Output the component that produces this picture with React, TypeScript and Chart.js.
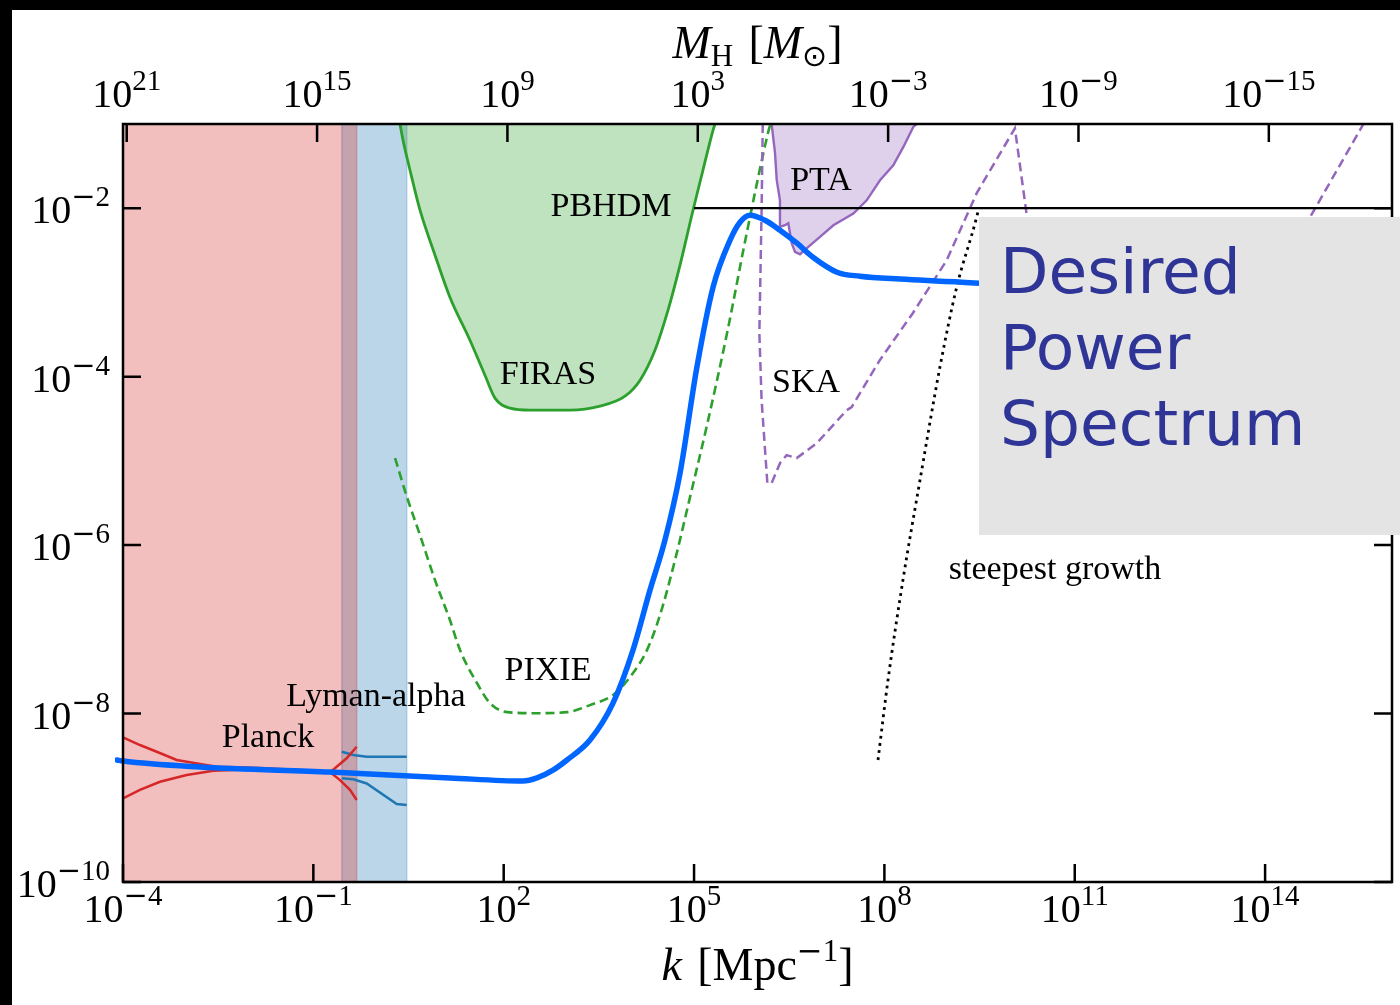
import React, { useEffect, useRef } from 'react';
import { Chart, registerables } from 'chart.js';

Chart.register(...registerables);

// ---- axis ranges ----
const K_MIN = 1e-4;
const K_MAX = 1e16;
const P_MIN = 1e-10;
const P_MAX = 1e-1;
// horizon mass in solar masses: M_H = HORIZON_MASS_K1 * (k / Mpc^-1)^-2
const HORIZON_MASS_K1 = 1.31e13;

// ---- tick positions ----
const kTicks = [1e-4, 1e-1, 1e2, 1e5, 1e8, 1e11, 1e14];
const pTicks = [1e-10, 1e-8, 1e-6, 1e-4, 1e-2];
const massTicks = [1e21, 1e15, 1e9, 1e3, 1e-3, 1e-9, 1e-15];

// ---- desired primordial power spectrum ----
const desiredK = [8.04e-5, 1e-4, 1.64e-3, 0.183, 14.2, 201, 335, 598, 995, 2.29e3, 5.28e3, 1.09e4, 2.02e4, 3.48e4, 6.01e4, 1.11e5, 1.99e5, 3.69e5, 5.3e5, 7.62e5, 1.31e6, 2.26e6, 4.19e6, 7.49e6, 1.79e7, 4.12e7, 1.76e8, 3.21e9, 2.5e11];
const desiredP = [2.81e-9, 2.73e-9, 2.32e-9, 2.02e-9, 1.72e-9, 1.58e-9, 1.72e-9, 2.13e-9, 2.81e-9, 4.85e-9, 1.33e-8, 5.67e-8, 2.92e-7, 1.15e-6, 7.15e-6, 1.3e-4, 1.15e-3, 4.17e-3, 6.82e-3, 8.26e-3, 7.2e-3, 5.48e-3, 3.84e-3, 2.62e-3, 1.74e-3, 1.56e-3, 1.44e-3, 1.29e-3, 1.12e-3];

// ---- CMB (Planck) ----
const planckBandK = [1e-4, 1e-4, 0.482, 0.482];
const planckBandP = [1e-10, 1e-1, 1e-1, 1e-10];
const planckUpperK = [1e-4, 1.85e-4, 3.4e-4, 7.02e-4, 1.64e-3, 3.0e-3, 1.44e-2, 6.16e-2, 0.183, 0.263, 0.378, 0.482];
const planckUpperP = [5.22e-9, 4.23e-9, 3.52e-9, 2.81e-9, 2.52e-9, 2.34e-9, 2.25e-9, 2.13e-9, 2.02e-9, 1.62e-9, 1.24e-9, 9.4e-10];
const planckLowerK = [1e-4, 1.85e-4, 3.83e-4, 1.01e-3, 2.65e-3, 1.44e-2, 6.16e-2, 0.183, 0.233, 0.335, 0.482];
const planckLowerP = [9.85e-10, 1.24e-9, 1.55e-9, 1.86e-9, 2.09e-9, 2.19e-9, 2.08e-9, 2.0e-9, 2.34e-9, 2.94e-9, 4.04e-9];

// ---- Lyman-alpha forest ----
const lymanBandK = [0.28, 0.28, 2.96, 2.96];
const lymanBandP = [1e-10, 1e-1, 1e-1, 1e-10];
const lymanUpperK = [0.28, 0.426, 0.693, 2.96];
const lymanUpperP = [3.52e-9, 3.22e-9, 3.07e-9, 3.07e-9];
const lymanLowerK = [0.28, 0.426, 0.693, 2.06, 2.96];
const lymanLowerP = [1.7e-9, 1.66e-9, 1.48e-9, 8.43e-10, 8.2e-10];

// ---- spectral distortions ----
const firasK = [2.32, 2.59, 3.34, 4.8, 8.27, 14.2, 29.4, 50.7, 72.9, 126, 260, 1.11e3, 3.29e3, 8.16e3, 1.41e4, 2.42e4, 3.89e4, 6.01e4, 9.63e4, 1.38e5, 1.99e5, 2.14e5];
const firasP = [0.1, 6.41e-2, 2.82e-2, 9.47e-3, 2.77e-3, 8.78e-4, 2.71e-4, 1.04e-4, 5.56e-5, 4.23e-5, 4.0e-5, 4.0e-5, 4.47e-5, 5.87e-5, 9.09e-5, 2.06e-4, 6.16e-4, 2.11e-3, 9.47e-3, 2.82e-2, 8.42e-2, 0.1];
const pixieK = [1.94, 2.99, 4.8, 8.27, 14.2, 20.5, 37.9, 60.8, 113, 335, 994, 2.29e3, 5.28e3, 9.78e3, 1.81e4, 2.91e4, 5.01e4, 8.64e4, 1.6e5, 3.31e5, 6.76e5, 1.46e6, 1.6e6];
const pixieP = [1.08e-5, 3.71e-6, 1.31e-6, 3.84e-7, 1.29e-7, 5.67e-8, 2.3e-8, 1.33e-8, 1.04e-8, 1.01e-8, 1.04e-8, 1.26e-8, 1.66e-8, 2.71e-8, 5.67e-8, 1.48e-7, 6.64e-7, 3.71e-6, 2.66e-5, 3.28e-4, 5.05e-3, 7.77e-2, 0.1];

// ---- pulsar timing and SKA ----
const ptaK = [1.67e6, 1.89e6, 2.01e6, 2.26e6, 2.26e6, 2.71e6, 3.06e6, 3.46e6, 3.9e6, 4.68e6, 6.32e6, 9.66e6, 1.57e7, 3.24e7, 5.26e7, 8.52e7, 1.38e8, 1.99e8, 2.85e8, 3.23e8];
const ptaP = [0.1, 4.5e-2, 2.15e-2, 1.24e-2, 6.0e-3, 6.28e-3, 6.64e-3, 3.84e-3, 3.03e-3, 2.84e-3, 3.47e-3, 4.56e-3, 6.28e-3, 8.65e-3, 1.24e-2, 2.15e-2, 3.24e-2, 5.34e-2, 9.23e-2, 0.1];
const skaK = [1.21e6, 1.16e6, 1.07e6, 1.16e6, 1.43e6, 1.67e6, 2.26e6, 2.88e6, 4.15e6, 8.57e6, 2.55e7, 3.05e7, 8.46e7, 2.8e8, 9.59e8, 2.85e9, 1.14e10, 1.77e10, 3.4e10, 5.86e10, 1.45e11, 7.43e11, 9.42e12, 5.11e14, 3.55e15];
const skaP = [0.1, 9.47e-3, 3.28e-4, 5.26e-5, 5.44e-6, 5.44e-6, 9.4e-6, 1.17e-5, 1.08e-5, 1.62e-5, 4.0e-5, 4.35e-5, 1.57e-4, 5.67e-4, 2.41e-3, 1.51e-2, 8.9e-2, 7.82e-3, 9.09e-5, 7.77e-6, 1.02e-5, 2.32e-5, 2.06e-4, 7.82e-3, 0.1];

// ---- PBH dark matter bound and steepest growth ----
const pbhdmK = [1e5, 1e16];
const pbhdmP = [1e-2, 1e-2];
const steepK = [7.93e7, 1.14e8, 1.96e8, 3.64e8, 7.52e8, 1.38e9, 2.85e9, 3.04e9];
const steepP = [2.81e-9, 2.5e-8, 3.84e-7, 5.91e-6, 1.31e-4, 1.16e-3, 7.88e-3, 9.73e-3];

// ---- text annotations (anchored in k, P) ----
const regionLabels = [
  { text: 'PBHDM', k: 4.91e3, p: 1.03e-2 },
  { text: 'PTA', k: 1.0e7, p: 2.09e-2 },
  { text: 'FIRAS', k: 499, p: 1.04e-4 },
  { text: 'SKA', k: 5.81e6, p: 8.38e-5 },
  { text: 'PIXIE', k: 499, p: 3.19e-8 },
  { text: 'Lyman-alpha', k: 0.97, p: 1.57e-8 },
  { text: 'Planck', k: 1.93e-2, p: 5.12e-9 },
  { text: 'steepest growth', k: 4.89e10, p: 5.05e-7 },
];
const calloutLines = ['Desired', 'Power', 'Spectrum'];

const SERIF = '"Liberation Serif", "Times New Roman", serif';
const MINUS_FONT = '"DejaVu Serif", serif';

type Pt = { x: number; y: number };
const zip = (ks: number[], ps: number[]): Pt[] => ks.map((k, i) => ({ x: k, y: ps[i] }));

const series = (label: string, ks: number[], ps: number[], color: string, width: number, extra: Record<string, unknown> = {}) => ({
  label,
  data: zip(ks, ps),
  borderColor: color,
  borderWidth: width,
  backgroundColor: 'transparent',
  pointRadius: 0,
  pointHoverRadius: 0,
  fill: false,
  tension: 0,
  ...extra,
});

type Run = { text: string; font: string; dy?: number };

function drawRuns(ctx: CanvasRenderingContext2D, runs: Run[], x: number, baseline: number, align: 'left' | 'center' | 'right') {
  const widths = runs.map((r) => {
    ctx.font = r.font;
    return ctx.measureText(r.text).width;
  });
  const total = widths.reduce((a, b) => a + b, 0);
  let cx = align === 'center' ? x - total / 2 : align === 'right' ? x - total : x;
  ctx.textAlign = 'left';
  ctx.textBaseline = 'alphabetic';
  runs.forEach((r, i) => {
    ctx.font = r.font;
    ctx.fillText(r.text, cx, baseline + (r.dy ?? 0));
    cx += widths[i];
  });
}

function powerRuns(value: number): Run[] {
  const exp = Math.round(Math.log10(value));
  const runs: Run[] = [{ text: '10', font: `40px ${SERIF}` }];
  if (exp < 0) runs.push({ text: '\u2212', font: `29px ${MINUS_FONT}`, dy: -17 });
  runs.push({ text: String(Math.abs(exp)), font: `29px ${SERIF}`, dy: -17 });
  return runs;
}

const TICK_LEN = 18;

const frameAndText = {
  id: 'frameAndText',
  afterDraw(chart: any) {
    const ctx: CanvasRenderingContext2D = chart.ctx;
    const { left, right, top, bottom } = chart.chartArea;
    const xs = chart.scales.x;
    const ys = chart.scales.y;
    const x2 = chart.scales.x2;
    const y2 = chart.scales.y2;
    ctx.save();

    // region names
    ctx.fillStyle = '#000';
    ctx.textAlign = 'center';
    ctx.textBaseline = 'middle';
    ctx.font = `34px ${SERIF}`;
    regionLabels.forEach((l) => {
      ctx.fillText(l.text, xs.getPixelForValue(l.k), ys.getPixelForValue(l.p));
    });

    // frame
    ctx.strokeStyle = '#000';
    ctx.lineWidth = 2.5;
    ctx.strokeRect(left, top, right - left, bottom - top);

    // inward ticks on all four sides
    ctx.beginPath();
    kTicks.forEach((v) => {
      const px = xs.getPixelForValue(v);
      ctx.moveTo(px, bottom);
      ctx.lineTo(px, bottom - TICK_LEN);
    });
    massTicks.forEach((v) => {
      const px = x2.getPixelForValue(v);
      ctx.moveTo(px, top);
      ctx.lineTo(px, top + TICK_LEN);
    });
    pTicks.forEach((v) => {
      const py = ys.getPixelForValue(v);
      ctx.moveTo(left, py);
      ctx.lineTo(left + TICK_LEN, py);
      const py2 = y2.getPixelForValue(v);
      ctx.moveTo(right, py2);
      ctx.lineTo(right - TICK_LEN, py2);
    });
    ctx.stroke();

    // tick labels
    ctx.fillStyle = '#000';
    kTicks.forEach((v) => drawRuns(ctx, powerRuns(v), xs.getPixelForValue(v), bottom + 40, 'center'));
    massTicks.forEach((v) => drawRuns(ctx, powerRuns(v), x2.getPixelForValue(v), top - 17, 'center'));
    pTicks.forEach((v) => drawRuns(ctx, powerRuns(v), left - 13, ys.getPixelForValue(v) + 15, 'right'));

    // axis titles
    const cx = (left + right) / 2;
    drawRuns(
      ctx,
      [
        { text: 'k', font: `italic 46px ${SERIF}` },
        { text: '\u2004[Mpc', font: `46px ${SERIF}` },
        { text: '\u2212', font: `31px ${MINUS_FONT}`, dy: -19 },
        { text: '1', font: `31px ${SERIF}`, dy: -19 },
        { text: ']', font: `46px ${SERIF}` },
      ],
      cx,
      bottom + 98,
      'center'
    );
    drawRuns(
      ctx,
      [
        { text: 'M', font: `italic 46px ${SERIF}` },
        { text: 'H', font: `31px ${SERIF}`, dy: 8 },
        { text: '\u2004[', font: `46px ${SERIF}` },
        { text: 'M', font: `italic 46px ${SERIF}` },
        { text: '\u2299', font: `30px "DejaVu Sans", sans-serif`, dy: 8 },
        { text: ']', font: `46px ${SERIF}` },
      ],
      cx,
      top - 66,
      'center'
    );

    // callout panel
    ctx.fillStyle = '#e4e4e4';
    ctx.fillRect(967, 207, 421, 318);
    ctx.fillStyle = '#2f3596';
    ctx.font = '63px "DejaVu Sans", sans-serif';
    ctx.textAlign = 'left';
    ctx.textBaseline = 'alphabetic';
    calloutLines.forEach((t, i) => ctx.fillText(t, 988, 283 + i * 76));

    ctx.restore();
  },
};

const hiddenAxis = (extra: Record<string, unknown>) => ({
  type: 'logarithmic',
  display: true,
  ticks: { display: false },
  grid: { display: false, drawTicks: false },
  border: { display: false },
  ...extra,
});

export default function App() {
  const canvasRef = useRef<HTMLCanvasElement>(null);

  useEffect(() => {
    const canvas = canvasRef.current;
    if (!canvas) return;
    const datasets = [
      series('Desired power spectrum', desiredK, desiredP, '#0066ff', 5.5, {
        cubicInterpolationMode: 'monotone',
        clip: { left: 8, top: 0, right: 0, bottom: 0 },
        borderCapStyle: 'round',
        borderJoinStyle: 'round',
      }),
      series('steepest growth', steepK, steepP, '#000000', 2.8, { borderDash: [2.8, 4.4], cubicInterpolationMode: 'monotone' }),
      series('PBHDM', pbhdmK, pbhdmP, '#000000', 2.2),
      series('SKA', skaK, skaP, '#9467bd', 2.5, { borderDash: [9, 5] }),
      series('PIXIE', pixieK, pixieP, '#2ca02c', 2.6, { borderDash: [9, 5], cubicInterpolationMode: 'monotone' }),
      series('PTA', ptaK, ptaP, '#9467bd', 2.4, { fill: 'end', backgroundColor: 'rgba(148,103,189,0.3)' }),
      series('FIRAS', firasK, firasP, '#2ca02c', 2.8, {
        fill: 'end',
        backgroundColor: 'rgba(44,160,44,0.3)',
        cubicInterpolationMode: 'monotone',
      }),
      series('Planck (upper)', planckUpperK, planckUpperP, '#d62728', 2.5),
      series('Planck (lower)', planckLowerK, planckLowerP, '#d62728', 2.5),
      series('Lyman-alpha (upper)', lymanUpperK, lymanUpperP, '#1f77b4', 2.5),
      series('Lyman-alpha (lower)', lymanLowerK, lymanLowerP, '#1f77b4', 2.5),
      series('Planck', planckBandK, planckBandP, 'rgba(214,39,40,0.3)', 1.5, {
        fill: 'start',
        backgroundColor: 'rgba(214,39,40,0.3)',
      }),
      series('Lyman-alpha', lymanBandK, lymanBandP, 'rgba(31,119,180,0.3)', 1.5, {
        fill: 'start',
        backgroundColor: 'rgba(31,119,180,0.3)',
      }),
    ];

    const chart = new Chart(canvas, {
      type: 'line',
      data: { datasets: datasets as any },
      options: {
        animation: false,
        responsive: false,
        devicePixelRatio: 1,
        events: [],
        layout: { padding: 0 },
        plugins: {
          legend: { display: false },
          tooltip: { enabled: false },
        },
        scales: {
          x: hiddenAxis({
            position: 'bottom',
            min: K_MIN,
            max: K_MAX,
            afterFit: (s: any) => {
              s.height = 123;
            },
          }),
          y: hiddenAxis({
            position: 'left',
            min: P_MIN,
            max: P_MAX,
            afterFit: (s: any) => {
              s.width = 111;
            },
          }),
          x2: hiddenAxis({
            position: 'top',
            reverse: true,
            min: HORIZON_MASS_K1 / (K_MAX * K_MAX),
            max: HORIZON_MASS_K1 / (K_MIN * K_MIN),
            afterFit: (s: any) => {
              s.height = 114;
            },
          }),
          y2: hiddenAxis({
            position: 'right',
            min: P_MIN,
            max: P_MAX,
            afterFit: (s: any) => {
              s.width = 8;
            },
          }),
        } as any,
      },
      plugins: [frameAndText],
    });
    return () => chart.destroy();
  }, []);

  return (
    <div
      style={{
        position: 'fixed',
        left: 0,
        top: 0,
        width: 1400,
        height: 1005,
        background: '#000',
        overflow: 'hidden',
      }}
    >
      <canvas
        ref={canvasRef}
        width={1388}
        height={995}
        style={{ position: 'absolute', left: 12, top: 10, width: 1388, height: 995, background: '#fff' }}
      />
    </div>
  );
}
